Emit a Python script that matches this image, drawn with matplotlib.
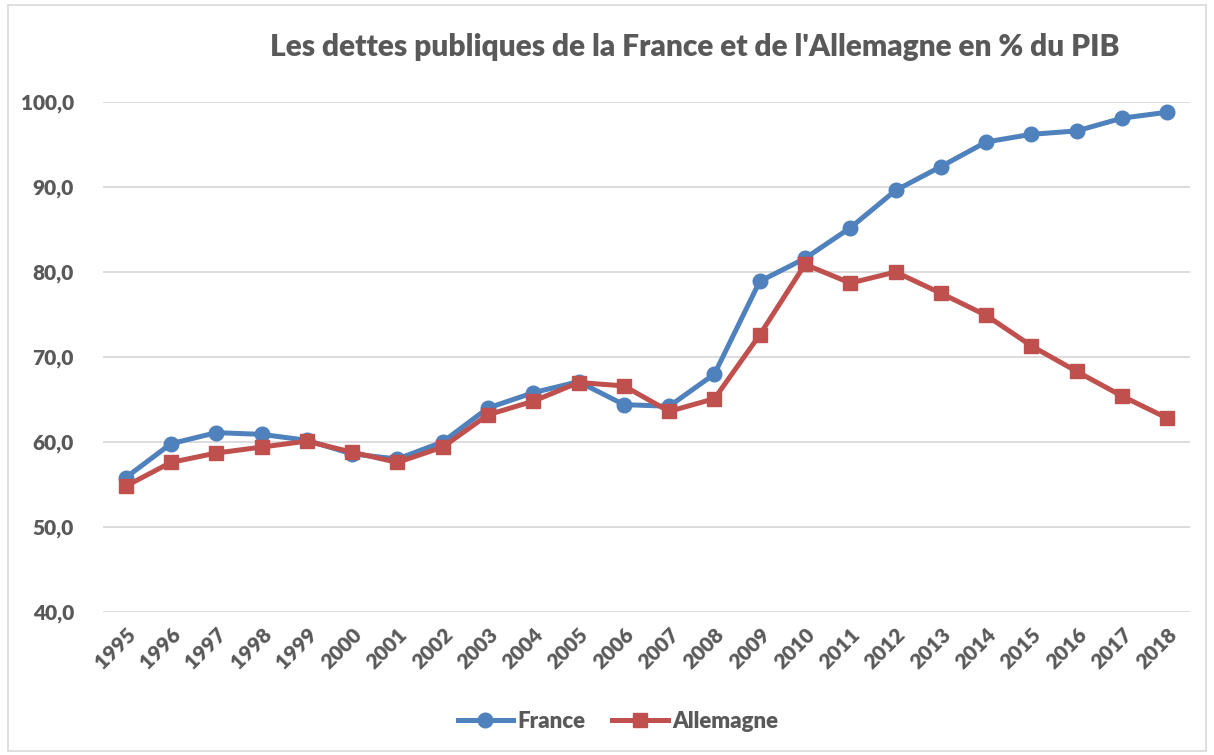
import matplotlib.pyplot as plt
from matplotlib.patches import Rectangle
from matplotlib.ticker import FuncFormatter

annees = [str(a) for a in range(1995, 2019)]
france = [55.8, 59.8, 61.1, 60.9, 60.2, 58.6, 58.0, 60.0, 64.0, 65.8, 67.1, 64.4,
          64.2, 68.0, 78.9, 81.6, 85.2, 89.6, 92.4, 95.3, 96.2, 96.6, 98.1, 98.8]
allemagne = [54.8, 57.6, 58.7, 59.4, 60.1, 58.8, 57.6, 59.4, 63.2, 64.8, 67.0, 66.6,
             63.6, 65.1, 72.6, 80.9, 78.7, 80.0, 77.5, 74.9, 71.3, 68.3, 65.4, 62.8]

gris = '#595959'
plt.rcParams['font.family'] = ['Lato', 'DejaVu Sans']
plt.rcParams['font.weight'] = 'heavy'

fig = plt.figure(figsize=(12.14, 7.55), dpi=100)
ax = fig.add_axes([103/1214, 143/755, 1087/1214, 510/755])

x = range(len(annees))
ax.plot(x, france, color='#4F81BD', lw=3.6, marker='o', ms=10.5, label='France')
ax.plot(x, allemagne, color='#C0504D', lw=3.6, marker='s', ms=10.5, label='Allemagne')

ax.set_xlim(-0.5, len(annees) - 0.5)
ax.set_ylim(40, 100)
ax.set_yticks(range(40, 101, 10))
ax.yaxis.set_major_formatter(FuncFormatter(lambda v, p: f'{v:.1f}'.replace('.', ',')))
ax.set_xticks(list(x))
ax.set_xticklabels(annees, rotation=45, ha='right', rotation_mode='anchor')
ax.tick_params(axis='both', length=0, labelsize=15, labelcolor=gris)
ax.tick_params(axis='x', pad=9)
ax.tick_params(axis='y', pad=21)
ax.grid(axis='y', color='#D9D9D9', lw=1.3)
ax.set_axisbelow(True)
for s in ax.spines.values():
    s.set_visible(False)

fig.text(0.572, 0.938, "Les dettes publiques de la France et de l'Allemagne en % du PIB",
         ha='center', va='center', fontsize=21.5, color=gris)

fig.legend(loc='center', bbox_to_anchor=(0.509, 0.045), ncol=2, frameon=False,
           fontsize=16, labelcolor=gris, handlelength=2.5, handletextpad=0.2,
           columnspacing=1.2)

fig.patches.append(Rectangle((0.007, 0.005), 0.986, 0.988, transform=fig.transFigure,
                             fill=False, edgecolor='#D9D9D9', lw=1.2))

fig.savefig('out.png', dpi=100)
